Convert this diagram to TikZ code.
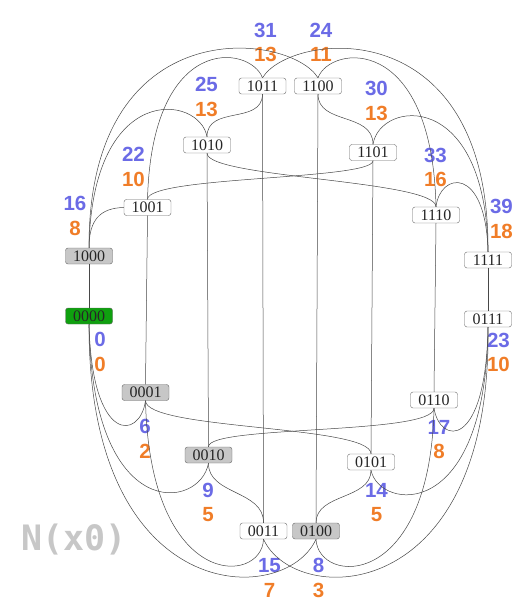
\documentclass[tikz,border=0pt]{standalone}
\usepackage{fontspec}
\setmainfont{Liberation Serif}
\setsansfont{Liberation Sans}
\newfontfamily\codefont{DejaVu Sans Mono}
\usetikzlibrary{positioning}
\definecolor{costblue}{HTML}{6B6BE6}
\definecolor{costorange}{HTML}{F07D28}
\definecolor{startgreen}{HTML}{0FA00F}

\begin{document}
\begin{tikzpicture}[
  x=1pt, y=-1pt,
  every node/.style={font=\fontsize{16}{16}\selectfont},
  bits/.style  = {draw=black!60, fill=white, text=black!85, rounded corners=2.5pt, inner sep=0pt, minimum width=47pt, minimum height=16pt},
  seen/.style  = {bits, fill=black!22},
  start/.style = {bits, fill=startgreen},
  cost/.style  = {font=\sffamily\bfseries\fontsize{20.5}{24.5}\selectfont, align=center, inner sep=0pt},
  edge/.style  = {draw=black!72, line width=0.5pt},
]
  \useasboundingbox (0,0) rectangle (521,606);

  % Q4 vertices: upper half 1xxx, lower half 0xxx
  \node[bits]  (n1011) at (262.5,86)  {1011};
  \node[bits]  (n1100) at (318,86)    {1100};
  \node[bits]  (n1010) at (207,145)   {1010};
  \node[bits]  (n1101) at (373,152.5) {1101};
  \node[bits]  (n1001) at (147.5,207.5) {1001};
  \node[bits]  (n1110) at (436,215)   {1110};
  \node[seen]  (n1000) at (89,256)    {1000};
  \node[bits]  (n1111) at (488,260)   {1111};
  \node[start] (n0000) at (89,316)    {0000};
  \node[bits]  (n0111) at (488,319)   {0111};
  \node[seen]  (n0001) at (145.5,392.5) {0001};
  \node[bits]  (n0110) at (434,400)   {0110};
  \node[seen]  (n0010) at (208.5,455) {0010};
  \node[bits]  (n0101) at (371,462)   {0101};
  \node[bits]  (n0011) at (263.5,531) {0011};
  \node[seen]  (n0100) at (316,531)   {0100};

  % costs: g on top, h below
  \foreach \n/\x/\y/\g/\h in {1011/265.5/42.5/31/13, 1100/321/42.5/24/11, 1010/206.5/97/25/13,
      1101/376.5/101/30/13, 1001/133.5/167/22/10, 1110/435.5/167.5/33/16, 1000/75/216/16/8,
      1111/501.5/219/39/18, 0000/100/352/0/0, 0111/498.5/352.5/23/10, 0001/145/439/6/2,
      0110/439/439.5/17/8, 0010/208/502.5/9/5, 0101/376.5/502.5/14/5, 0011/269.5/578/15/7,
      0100/318.5/578/8/3}
    \node[cost] (c\n) at (\x,\y) {\textcolor{costblue}{\g}\\\textcolor{costorange}{\h}};

  \node[font=\codefont\bfseries\fontsize{35}{35}\selectfont, text=black!22, inner sep=0pt] (title) at (74,540) {N(x0)};

  % edges flipping the first bit
  \foreach \a/\b in {1011/0011, 1100/0100, 1010/0010, 1101/0101, 1001/0001, 1110/0110, 1000/0000, 1111/0111}
    \draw[edge] (n\a.south) -- (n\b.north);

  % upper cube
  \draw[edge] (n1011.south) .. controls (262,125) and (207,105) .. (n1010.north);
  \draw[edge] (n1100.south) .. controls (318,125) and (373,112) .. (n1101.north);
  \draw[edge] (n1011.north) .. controls (250,45) and (152,32) .. (n1001.north);
  \draw[edge] (n1100.north) .. controls (330,45) and (432,32) .. (n1110.north);
  \draw[edge] (n1100.north) .. controls (290,32) and (88,8) .. (n1000.north);
  \draw[edge] (n1011.north) .. controls (290,32) and (490,8) .. (n1111.north);
  \draw[edge] (n1010.north) .. controls (200,95) and (92,80) .. (n1000.north);
  \draw[edge] (n1101.north) .. controls (380,100) and (486,88) .. (n1111.north);
  \draw[edge] (n1001.west) .. controls (100,208) and (89,220) .. (n1000.north);
  \draw[edge] (n1110.north) .. controls (440,172) and (486,165) .. (n1111.north);
  \draw[edge] (n1001.north) .. controls (148,176) and (373,180) .. (n1101.south);
  \draw[edge] (n1010.south) .. controls (207,178) and (436,180) .. (n1110.north);

  % lower cube
  \draw[edge] (n0010.south) .. controls (208,495) and (264,490) .. (n0011.north);
  \draw[edge] (n0101.south) .. controls (371,500) and (316,493) .. (n0100.north);
  \draw[edge] (n0010.south) .. controls (200,510) and (92,525) .. (n0000.south);
  \draw[edge] (n0101.south) .. controls (379,510) and (486,525) .. (n0111.south);
  \draw[edge] (n0001.south) .. controls (140,440) and (92,445) .. (n0000.south);
  \draw[edge] (n0110.south) .. controls (440,445) and (486,450) .. (n0111.south);
  \draw[edge] (n0001.south) .. controls (150,592) and (262,585) .. (n0011.south);
  \draw[edge] (n0100.south) .. controls (318,585) and (430,592) .. (n0110.south);
  \draw[edge] (n0000.south) .. controls (88,608) and (285,608) .. (n0100.south);
  \draw[edge] (n0011.south) .. controls (295,608) and (492,608) .. (n0111.south);
  \draw[edge] (n0001.south) .. controls (146,430) and (371,425) .. (n0101.north);
  \draw[edge] (n0010.north) .. controls (208,425) and (434,435) .. (n0110.south);
\end{tikzpicture}
\end{document}
